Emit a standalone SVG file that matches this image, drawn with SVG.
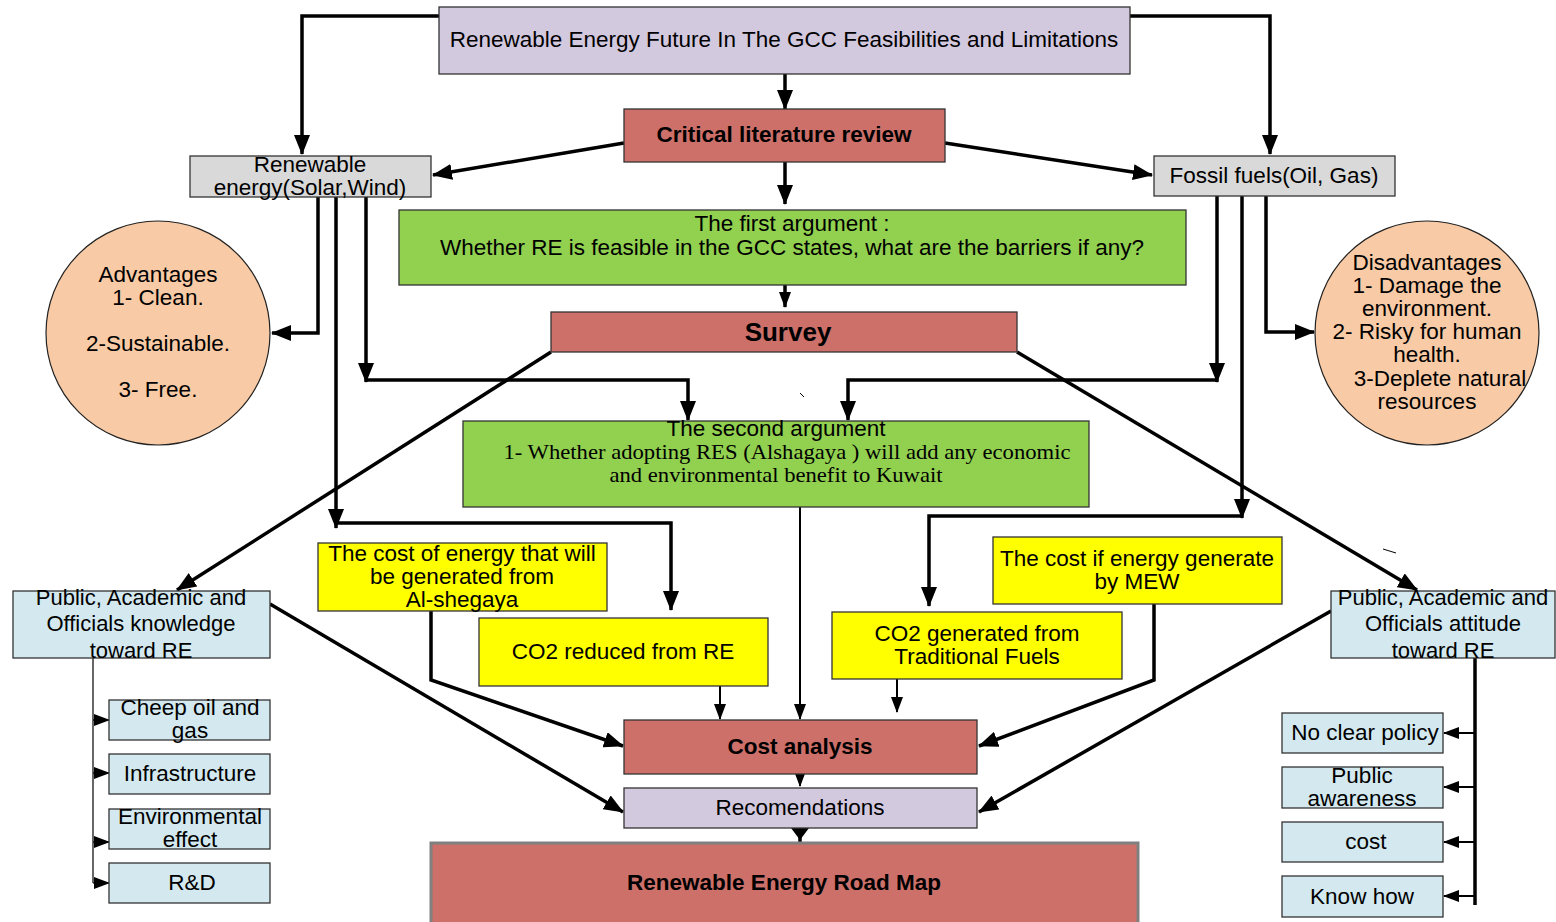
<svg xmlns="http://www.w3.org/2000/svg" width="1556" height="922" viewBox="0 0 1556 922">
<style>
text{font-family:"Liberation Sans",Arial,sans-serif;font-size:22.5px;fill:#000;text-anchor:middle}
.b{font-weight:bold}
.serif{font-family:"Liberation Serif","Times New Roman",serif;font-size:21px}
.cal{font-family:"Liberation Sans",Arial,sans-serif;font-size:22px}
.box{stroke:#333;stroke-width:1.3}
.lav{fill:#d3c9df}
.red{fill:#cd7069}
.gray{fill:#d9d9d9}
.green{fill:#92d050}
.yel{fill:#ffff00}
.blue{fill:#d3e9ef}
.peach{fill:#f8cba6;stroke:#222;stroke-width:1.2}
.c{fill:none;stroke:#000;stroke-width:3.5}
.t{fill:none;stroke:#000;stroke-width:2}
.t1{fill:none;stroke:#000;stroke-width:1.2}
</style>
<defs>
<marker id="ah" markerUnits="userSpaceOnUse" markerWidth="20" markerHeight="16" refX="19" refY="8" orient="auto"><path d="M0,0 L20,8 L0,16 z" fill="#000"/></marker>
<marker id="as" markerUnits="userSpaceOnUse" markerWidth="16" markerHeight="12" refX="15" refY="6" orient="auto"><path d="M0,0 L16,6 L0,12 z" fill="#000"/></marker>
</defs>
<rect width="1556" height="922" fill="#fff"/>

<g id="connectors">
<polyline class="c" points="439,16 302,16 302,154" marker-end="url(#ah)"/>
<polyline class="c" points="1130,16 1270,16 1270,154" marker-end="url(#ah)"/>
<line class="c" x1="785" y1="74" x2="785" y2="109" marker-end="url(#ah)"/>
<line class="c" x1="624" y1="143" x2="433" y2="175" marker-end="url(#ah)"/>
<line class="c" x1="945" y1="143" x2="1152" y2="175" marker-end="url(#ah)"/>
<line class="c" x1="785" y1="162" x2="785" y2="204" marker-end="url(#ah)"/>
<line class="c" x1="785" y1="285" x2="785" y2="307" marker-end="url(#as)"/>
<polyline class="c" points="318,197 318,333 272,333" marker-end="url(#ah)"/>
<line class="c" x1="336" y1="197" x2="336" y2="528" marker-end="url(#ah)"/>
<polyline class="c" points="336,523 671,523 671,610" marker-end="url(#ah)"/>
<line class="c" x1="366" y1="197" x2="366" y2="382" marker-end="url(#ah)"/>
<polyline class="c" points="366,380 688,380 688,420" marker-end="url(#ah)"/>
<line class="c" x1="1217" y1="196" x2="1217" y2="382" marker-end="url(#ah)"/>
<polyline class="c" points="1217,380 848,380 848,420" marker-end="url(#ah)"/>
<line class="c" x1="1242" y1="196" x2="1242" y2="518" marker-end="url(#ah)"/>
<polyline class="c" points="1242,516 929,516 929,606" marker-end="url(#ah)"/>
<polyline class="c" points="1266,196 1266,332 1314,332" marker-end="url(#ah)"/>
<line class="c" x1="551" y1="352" x2="177" y2="590" marker-end="url(#ah)"/>
<line class="c" x1="1017" y1="352" x2="1417" y2="590" marker-end="url(#ah)"/>
<line class="t" x1="800" y1="507" x2="800" y2="719" marker-end="url(#as)"/>
<polyline class="c" points="431,611 431,680 623,746" marker-end="url(#ah)"/>
<line class="t" x1="720" y1="686" x2="720" y2="719" marker-end="url(#as)"/>
<line class="t" x1="897" y1="679" x2="897" y2="712" marker-end="url(#as)"/>
<polyline class="c" points="1154,604 1154,680 979,746" marker-end="url(#ah)"/>
<line class="c" x1="270" y1="604" x2="623" y2="812" marker-end="url(#ah)"/>
<line class="c" x1="1331" y1="611" x2="979" y2="812" marker-end="url(#ah)"/>
<line class="t" x1="800" y1="774" x2="800" y2="786" marker-end="url(#as)"/>
<line class="c" x1="800" y1="828" x2="800" y2="848"/>
<path d="M791,828 L809,828 L800,840 z" fill="#000"/>
<line class="t1" x1="93" y1="658" x2="93" y2="883"/>
<line class="t1" x1="93" y1="720" x2="109" y2="720" marker-end="url(#as)"/>
<line class="t1" x1="93" y1="773" x2="109" y2="773" marker-end="url(#as)"/>
<line class="t1" x1="93" y1="842" x2="109" y2="842" marker-end="url(#as)"/>
<line class="t1" x1="93" y1="883" x2="109" y2="883" marker-end="url(#as)"/>
<line class="c" x1="1475" y1="658" x2="1475" y2="905"/>
<line class="t" x1="1475" y1="733" x2="1444" y2="733" marker-end="url(#as)"/>
<line class="t" x1="1475" y1="787" x2="1444" y2="787" marker-end="url(#as)"/>
<line class="t" x1="1475" y1="842" x2="1444" y2="842" marker-end="url(#as)"/>
<line class="t" x1="1475" y1="896" x2="1444" y2="896" marker-end="url(#as)"/>
<line x1="800" y1="393" x2="804" y2="397" stroke="#000" stroke-width="1"/>
<line x1="1383" y1="549" x2="1396" y2="553" stroke="#000" stroke-width="1"/>
</g>

<g id="title"><rect class="box lav" x="439" y="7" width="691" height="67"/><text x="784" y="47">Renewable Energy Future In The GCC Feasibilities and Limitations</text></g>
<g id="critical"><rect class="box red" x="624" y="109" width="321" height="53"/><text class="b" x="784" y="142">Critical literature review</text></g>
<g id="renewable"><rect class="box gray" x="190" y="156" width="241" height="41"/><text x="310" y="172">Renewable</text><text x="310" y="195">energy(Solar,Wind)</text></g>
<g id="fossil"><rect class="box gray" x="1154" y="156" width="241" height="40"/><text x="1274" y="183">Fossil fuels(Oil, Gas)</text></g>
<g id="first"><rect class="box green" x="399" y="210" width="787" height="75"/><text x="792" y="231">The first argument :</text><text x="792" y="255">Whether RE is feasible in the GCC states, what are the barriers if any?</text></g>
<g id="survey"><rect class="box red" x="551" y="312" width="466" height="40"/><text class="b" x="788" y="341" style="font-size:26px">Survey</text></g>
<g id="advantages"><circle class="peach" cx="158" cy="333" r="112"/><text x="158" y="282">Advantages</text><text x="158" y="305">1- Clean.</text><text x="158" y="351">2-Sustainable.</text><text x="158" y="397">3- Free.</text></g>
<g id="disadvantages"><circle class="peach" cx="1427" cy="333" r="112"/><text x="1427" y="270">Disadvantages</text><text x="1427" y="293">1- Damage the</text><text x="1427" y="316">environment.</text><text x="1427" y="339">2- Risky for human</text><text x="1427" y="362">health.</text><text x="1440" y="386">3-Deplete natural</text><text x="1427" y="409">resources</text></g>
<g id="second"><rect class="box green" x="463" y="421" width="626" height="86"/><text x="776" y="436">The second  argument</text><text class="serif" x="787" y="459" textLength="567" lengthAdjust="spacingAndGlyphs">1- Whether adopting RES (Alshagaya ) will add any economic</text><text class="serif" x="776" y="482" textLength="333" lengthAdjust="spacingAndGlyphs">and environmental benefit to Kuwait</text></g>
<g id="costenergy"><rect class="box yel" x="318" y="543" width="289" height="68"/><text x="462" y="561">The cost of energy that will</text><text x="462" y="584">be generated from</text><text x="462" y="607">Al-shegaya</text></g>
<g id="co2reduced"><rect class="box yel" x="479" y="618" width="289" height="68"/><text x="623" y="659">CO2 reduced from RE</text></g>
<g id="co2generated"><rect class="box yel" x="832" y="612" width="290" height="67"/><text x="977" y="641">CO2 generated from</text><text x="977" y="664">Traditional Fuels</text></g>
<g id="costmew"><rect class="box yel" x="993" y="537" width="289" height="67"/><text x="1137" y="566">The cost if energy generate</text><text x="1137" y="589">by MEW</text></g>
<g id="knowledge"><rect class="box blue" x="13" y="591" width="257" height="67"/><text class="cal" x="141" y="605">Public, Academic and</text><text class="cal" x="141" y="631">Officials knowledge</text><text class="cal" x="141" y="658">toward RE</text></g>
<g id="attitude"><rect class="box blue" x="1331" y="591" width="224" height="67"/><text class="cal" x="1443" y="605">Public, Academic and</text><text class="cal" x="1443" y="631">Officials attitude</text><text class="cal" x="1443" y="658">toward RE</text></g>
<g id="cheep"><rect class="box blue" x="109" y="700" width="161" height="40"/><text x="190" y="715">Cheep oil and</text><text x="190" y="738">gas</text></g>
<g id="infra"><rect class="box blue" x="109" y="754" width="161" height="40"/><text x="190" y="781">Infrastructure</text></g>
<g id="env"><rect class="box blue" x="109" y="809" width="161" height="40"/><text x="190" y="824">Environmental</text><text x="190" y="847">effect</text></g>
<g id="rd"><rect class="box blue" x="109" y="863" width="161" height="40"/><text x="192" y="890">R&amp;D</text></g>
<g id="policy"><rect class="box blue" x="1282" y="713" width="161" height="40"/><text x="1365" y="740">No clear policy</text></g>
<g id="awareness"><rect class="box blue" x="1282" y="767" width="161" height="41"/><text x="1362" y="783">Public</text><text x="1362" y="806">awareness</text></g>
<g id="cost"><rect class="box blue" x="1282" y="822" width="161" height="40"/><text x="1366" y="849">cost</text></g>
<g id="knowhow"><rect class="box blue" x="1282" y="876" width="161" height="41"/><text x="1362" y="904">Know how</text></g>
<g id="costanalysis"><rect class="box red" x="624" y="720" width="353" height="54"/><text class="b" x="800" y="754">Cost analysis</text></g>
<g id="recommendations"><rect class="box lav" x="624" y="788" width="353" height="40"/><text x="800" y="815">Recomendations</text></g>
<g id="roadmap"><rect x="431" y="843" width="707" height="84" fill="#cd7069" stroke="#808080" stroke-width="3"/><text class="b" x="784" y="890">Renewable Energy Road Map</text></g>
</svg>
